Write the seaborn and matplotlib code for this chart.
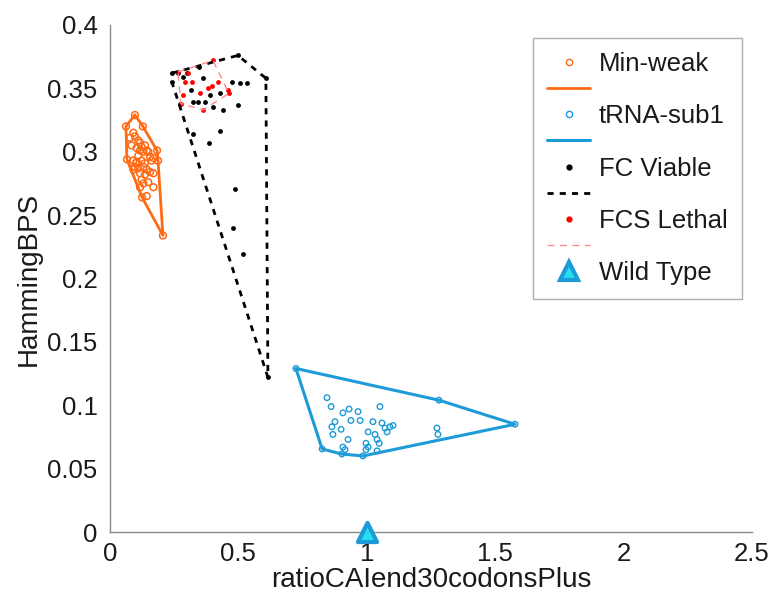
import matplotlib
matplotlib.use("Agg")
import matplotlib.pyplot as plt
from matplotlib.lines import Line2D
import seaborn as sns

# ---------------- data ----------------
# Min-weak points
minweak_x = [0.097, 0.128, 0.183, 0.187, 0.206, 0.125, 0.066, 0.062,
             0.091, 0.097, 0.084, 0.110, 0.117, 0.123, 0.136, 0.143, 0.149, 0.104,
             0.117, 0.130, 0.091, 0.104, 0.123, 0.136, 0.162, 0.169, 0.097, 0.110,
             0.130, 0.143, 0.156, 0.169, 0.117, 0.136, 0.123, 0.149, 0.169, 0.130,
             0.117, 0.143, 0.078, 0.156, 0.110, 0.091, 0.101]
minweak_y = [0.329, 0.320, 0.301, 0.293, 0.234, 0.264, 0.294, 0.320,
             0.315, 0.312, 0.305, 0.309, 0.307, 0.304, 0.305, 0.301, 0.300, 0.303,
             0.301, 0.300, 0.293, 0.292, 0.293, 0.291, 0.293, 0.295, 0.288, 0.287,
             0.288, 0.286, 0.284, 0.283, 0.283, 0.282, 0.278, 0.276, 0.272, 0.275,
             0.272, 0.265, 0.311, 0.296, 0.297, 0.286, 0.291]
minweak_hull_x = [0.097, 0.128, 0.183, 0.187, 0.206, 0.125, 0.066, 0.062, 0.097]
minweak_hull_y = [0.329, 0.320, 0.301, 0.293, 0.234, 0.264, 0.294, 0.320, 0.329]

# tRNA-sub1 points
trna_x = [0.724, 1.281, 1.577, 0.985, 0.903, 0.826,
          0.845, 0.861, 0.907, 0.931, 0.966, 1.051, 0.876, 0.938, 0.974, 1.024,
          1.059, 0.864, 0.900, 0.868, 1.005, 1.032, 1.071, 1.079, 1.090, 1.102,
          0.927, 1.040, 1.048, 0.997, 1.005, 0.997, 0.907, 0.915, 1.040, 1.273, 1.277]
trna_y = [0.129, 0.104, 0.085, 0.060, 0.0615, 0.0655,
          0.106, 0.099, 0.094, 0.097, 0.095, 0.099, 0.087, 0.088, 0.088, 0.087,
          0.086, 0.083, 0.081, 0.077, 0.079, 0.077, 0.082, 0.079, 0.083, 0.084,
          0.073, 0.073, 0.070, 0.070, 0.067, 0.065, 0.067, 0.065, 0.064, 0.082, 0.077]
trna_hull_x = [0.724, 1.281, 1.577, 0.985, 0.903, 0.826, 0.724]
trna_hull_y = [0.129, 0.104, 0.085, 0.060, 0.0615, 0.0655, 0.129]

# FC Viable points
fcv_x = [0.241, 0.498, 0.607, 0.615, 0.241,
         0.265, 0.300, 0.347, 0.362, 0.315, 0.323, 0.343, 0.370, 0.389, 0.401,
         0.428, 0.440, 0.475, 0.506, 0.533, 0.498, 0.323, 0.428, 0.386, 0.487,
         0.479, 0.518, 0.273, 0.284]
fcv_y = [0.362, 0.376, 0.358, 0.122, 0.355,
         0.362, 0.362, 0.367, 0.358, 0.349, 0.339, 0.339, 0.339, 0.345, 0.335,
         0.346, 0.333, 0.355, 0.354, 0.354, 0.337, 0.314, 0.316, 0.307, 0.271,
         0.240, 0.219, 0.338, 0.359]
fcv_hull_x = [0.241, 0.498, 0.607, 0.615, 0.241, 0.241]
fcv_hull_y = [0.362, 0.376, 0.358, 0.122, 0.355, 0.362]

# FCS Lethal points
fcs_x = [0.304, 0.292, 0.319, 0.401, 0.421, 0.397, 0.382, 0.350, 0.460,
         0.463, 0.362, 0.276, 0.284, 0.265]
fcs_y = [0.362, 0.355, 0.355, 0.372, 0.355, 0.352, 0.350, 0.346, 0.349,
         0.346, 0.333, 0.338, 0.345, 0.363]
fcs_hull_x = [0.265, 0.401, 0.463, 0.362, 0.276, 0.265]
fcs_hull_y = [0.363, 0.372, 0.346, 0.333, 0.338, 0.363]

# Wild type
wt_x = [1.0]
wt_y = [0.0]

x_ticks = [0, 0.5, 1, 1.5, 2, 2.5]
x_ticklabels = ["0", "0.5", "1", "1.5", "2", "2.5"]
y_ticks = [0, 0.05, 0.1, 0.15, 0.2, 0.25, 0.3, 0.35, 0.4]
y_ticklabels = ["0", "0.05", "0.1", "0.15", "0.2", "0.25", "0.3", "0.35", "0.4"]

legend_labels = ["Min-weak", "", "tRNA-sub1", "", "FC Viable", "", "FCS Lethal", "", "Wild Type"]

# ---------------- style ----------------
ORANGE = "#FF6A14"
BLUE = "#1D9BD8"
LRED = "#FF8A8A"

sns.set_theme(style="white")
plt.rcParams["font.family"] = ["Liberation Sans", "DejaVu Sans"]

fig = plt.figure(figsize=(7.73, 5.99), dpi=100)
ax = fig.add_axes([110 / 773, 67 / 599, 642 / 773, 507 / 599])

# hull lines
sns.lineplot(x=minweak_hull_x, y=minweak_hull_y, sort=False, estimator=None, ax=ax,
             color=ORANGE, linewidth=2.0)
sns.lineplot(x=trna_hull_x, y=trna_hull_y, sort=False, estimator=None, ax=ax,
             color=BLUE, linewidth=2.2)
ax.plot(fcv_hull_x, fcv_hull_y, color="black", linewidth=2.0, linestyle=(0, (2.2, 2.2)))
ax.plot(fcs_hull_x, fcs_hull_y, color=LRED, linewidth=1.0, linestyle=(0, (5, 4)))

# points
sns.scatterplot(x=minweak_x, y=minweak_y, ax=ax, marker="o", s=24,
                facecolors="none", edgecolor=ORANGE, linewidth=1.1)
sns.scatterplot(x=trna_x, y=trna_y, ax=ax, marker="o", s=16,
                facecolors="none", edgecolor=BLUE, linewidth=1.0)
sns.scatterplot(x=fcv_x, y=fcv_y, ax=ax, marker="o", s=12,
                color="black", edgecolor="black", linewidth=0)
sns.scatterplot(x=fcs_x, y=fcs_y, ax=ax, marker="o", s=12,
                color="red", edgecolor="red", linewidth=0)
sns.scatterplot(x=wt_x, y=wt_y, ax=ax, marker="^", s=190,
                color="#22E0F0", edgecolor=BLUE, linewidth=3, zorder=5, clip_on=False)

ax.set_xlim(0, 2.5)
ax.set_ylim(0, 0.4)
ax.set_xticks(x_ticks)
ax.set_xticklabels(x_ticklabels)
ax.set_yticks(y_ticks)
ax.set_yticklabels(y_ticklabels)

for s in ["top", "right"]:
    ax.spines[s].set_visible(False)
for s in ["left", "bottom"]:
    ax.spines[s].set_color("#8a8a8a")
    ax.spines[s].set_linewidth(1.0)

ax.tick_params(axis="both", direction="in", length=5, width=0.8, color="#8a8a8a",
               labelsize=18.5, labelcolor="#1a1a1a")
ax.tick_params(axis="y", pad=9)
ax.tick_params(axis="x", pad=7)

ax.set_xlabel("ratioCAIend30codonsPlus", fontsize=20, color="#1a1a1a", labelpad=1)
ax.set_ylabel("HammingBPS", fontsize=20, color="#1a1a1a", labelpad=4)

handles = [
    Line2D([], [], linestyle="none", marker="o", markersize=4.5, markerfacecolor="none",
           markeredgecolor=ORANGE, markeredgewidth=1.0),
    Line2D([], [], color=ORANGE, linewidth=2.0),
    Line2D([], [], linestyle="none", marker="o", markersize=4.5, markerfacecolor="none",
           markeredgecolor=BLUE, markeredgewidth=1.0),
    Line2D([], [], color=BLUE, linewidth=2.2),
    Line2D([], [], linestyle="none", marker="o", markersize=3.5, color="black"),
    Line2D([], [], color="black", linewidth=2.0, linestyle=(0, (2.2, 2.2))),
    Line2D([], [], linestyle="none", marker="o", markersize=3.5, color="red"),
    Line2D([], [], color=LRED, linewidth=1.0, linestyle=(0, (5, 4))),
    Line2D([], [], linestyle="none", marker="^", markersize=13, markerfacecolor="#22E0F0",
           markeredgecolor=BLUE, markeredgewidth=3),
]
leg = ax.legend(handles, legend_labels, loc="upper right", bbox_to_anchor=(0.984, 0.974),
                borderaxespad=0.0,
                fontsize=18.5, frameon=True, fancybox=False, edgecolor="#9a9a9a",
                handlelength=1.65, handletextpad=0.35, borderpad=0.55, labelspacing=0.08)
leg.get_frame().set_linewidth(1.0)
for t in leg.get_texts():
    t.set_color("#1a1a1a")

fig.savefig("out.png", dpi=100)
